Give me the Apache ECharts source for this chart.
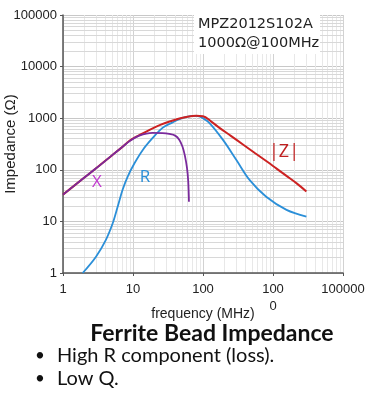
<!DOCTYPE html>
<html>
<head>
<meta charset="utf-8">
<script src="https://cdn.jsdelivr.net/npm/echarts@6/dist/echarts.min.js"></script>
<style>
html,body{margin:0;padding:0;background:#fff;}
#c{width:374px;height:407px;}
</style>
</head>
<body>
<div id="c"></div>
<script>
// Tick labels (as printed in the reference)
var xTickValues = [1, 10, 100, 1000, 10000];
var xTickLabels = ['1', '10', '100', '100\n0', '100000'];
var yTickValues = [1, 10, 100, 1000, 10000, 100000];
var yTickLabels = ['1', '10', '100', '1000', '10000', '100000'];

// |Z| impedance magnitude [frequency MHz, ohms]
var zData = [[1,33],[2,70],[3,108],[5,190],[7,275],[9,370],[12,460],[17,590],[25,750],[36.8,900],[46,990],[60,1070],[80,1110],[100,1090],[130,870],[172,650],[250,455],[372,310],[550,212],[800,148],[1100,108],[1540,77],[2200,54],[3000,38]];
// R resistance
var rData = [[1.91,1],[2.96,2.07],[4.1,4.4],[5.13,9.2],[6.05,19.4],[7.1,41],[8.4,74],[10.5,134],[13.8,243],[19.1,414],[26.4,650],[36.8,830],[46,960],[58,1060],[72,1110],[85,1100],[100,1000],[124,805],[193,380],[300,155],[465,63],[800,30],[1560,16.7],[3000,12.4]];
// X reactance
var xData = [[1,33],[2,70],[3,108],[5,190],[7,275],[9,362],[12.3,460],[19,520],[26.4,515],[33,495],[40,460],[46,380],[51,280],[55,190],[59,110],[61.5,60],[63,24]];

var partNumber = 'MPZ2012S102A';
var partSpec = '1000Ω@100MHz';

// minor grid positions
var minorX = [], minorY = [];
for (var d = 1; d < 10000; d *= 10) for (var k = 2; k <= 9; k++) minorX.push(d * k);
for (var d2 = 1; d2 < 100000; d2 *= 10) for (var k2 = 2; k2 <= 9; k2++) minorY.push(d2 * k2);

var gridLines = [];
minorX.forEach(function (v) { gridLines.push({ xAxis: v }); });
minorY.forEach(function (v) { gridLines.push({ yAxis: v, lineStyle: { color: '#d8d8d8' } }); });

var chart = echarts.init(document.getElementById('c'), null, { renderer: 'canvas' });
var axisFont = 'Liberation Sans';

chart.setOption({
  animation: false,
  backgroundColor: '#fff',
  grid: { left: 63, right: 31, top: 15, bottom: 134, containLabel: false, outerBoundsMode: 'none' },
  xAxis: {
    type: 'log', logBase: 10, min: 1, max: 10000,
    name: 'frequency (MHz)', nameLocation: 'middle', nameGap: 34, nameMoveOverlap: false,
    nameTextStyle: { fontFamily: axisFont, fontSize: 14, color: '#222' },
    axisLine: { lineStyle: { color: '#555', width: 1.5 } },
    axisTick: { show: true, length: 3, lineStyle: { color: '#555' } },
    axisLabel: {
      fontFamily: axisFont, fontSize: 13, color: '#222', margin: 8, lineHeight: 17,
      formatter: function (v) { var i = xTickValues.indexOf(Math.round(v)); return i >= 0 ? xTickLabels[i] : ''; }
    },
    splitLine: { show: true, lineStyle: { color: '#d2d2d2' } }
  },
  yAxis: {
    type: 'log', logBase: 10, min: 1, max: 100000,
    name: 'Impedance (Ω)', nameLocation: 'middle', nameGap: 45, nameRotate: 90, nameMoveOverlap: false,
    nameTextStyle: { fontFamily: axisFont, fontSize: 15, color: '#222' },
    axisLine: { show: true, lineStyle: { color: '#555', width: 1.5 } },
    axisTick: { show: true, length: 3, lineStyle: { color: '#555' } },
    axisLabel: {
      fontFamily: axisFont, fontSize: 13, color: '#222', margin: 6,
      formatter: function (v) { var i = yTickValues.indexOf(Math.round(v)); return i >= 0 ? yTickLabels[i] : ''; }
    },
    splitLine: { show: true, lineStyle: { color: '#c8c8c8' } }
  },
  series: [
    {
      type: 'line', data: [[1, 1]], symbol: 'none', lineStyle: { opacity: 0 }, silent: true, z: 0,
      markLine: { silent: true, symbol: 'none', label: { show: false }, animation: false, z: 0,
        lineStyle: { color: '#e8e8e8', type: 'solid', width: 1 }, data: gridLines }
    },
    { name: 'R', type: 'line', data: rData, symbol: 'none', smooth: 0.35, lineStyle: { color: '#2b8fd8', width: 1.8 }, z: 10 },
    { name: '|Z|', type: 'line', data: zData, symbol: 'none', smooth: 0.35, lineStyle: { color: '#cc2222', width: 2 }, z: 11 },
    { name: 'X', type: 'line', data: xData, symbol: 'none', smooth: 0.35, lineStyle: { color: '#7a2a9c', width: 1.8 }, z: 12 }
  ],
  graphic: [
    { type: 'rect', shape: { x: 194, y: 14, width: 126, height: 40 }, style: { fill: '#fff' }, z: 20 },
    { type: 'text', x: 198, y: 15, z: 21, style: { text: partNumber + '\n' + partSpec, font: '14.5px "DejaVu Sans"', fill: '#222', lineHeight: 19 } },
    { type: 'text', x: 284, y: 152, z: 21, style: { text: '|Z|', font: '18px "Open Sans"', fill: '#c02020', align: 'center', verticalAlign: 'middle' } },
    { type: 'text', x: 145, y: 177, z: 21, style: { text: 'R', font: '17px "Open Sans"', fill: '#2b8fd8', align: 'center', verticalAlign: 'middle' } },
    { type: 'text', x: 97, y: 182, z: 21, style: { text: 'X', font: '17px "Open Sans"', fill: '#c23ccf', align: 'center', verticalAlign: 'middle' } },
    { type: 'text', x: 212, y: 334, z: 21, style: { text: 'Ferrite Bead Impedance', font: 'bold 23px Lato', fill: '#111', align: 'center', verticalAlign: 'middle' } },
    { type: 'text', x: 40, y: 356, z: 21, style: { text: '•', font: '17px Lato', fill: '#111', align: 'center', verticalAlign: 'middle' } },
    { type: 'text', x: 57, y: 356, z: 21, style: { text: 'High R component (loss).', font: '20px Lato', fill: '#111', verticalAlign: 'middle' } },
    { type: 'text', x: 40, y: 379, z: 21, style: { text: '•', font: '17px Lato', fill: '#111', align: 'center', verticalAlign: 'middle' } },
    { type: 'text', x: 57, y: 379, z: 21, style: { text: 'Low Q.', font: '20px Lato', fill: '#111', verticalAlign: 'middle' } }
  ]
});
</script>
</body>
</html>
